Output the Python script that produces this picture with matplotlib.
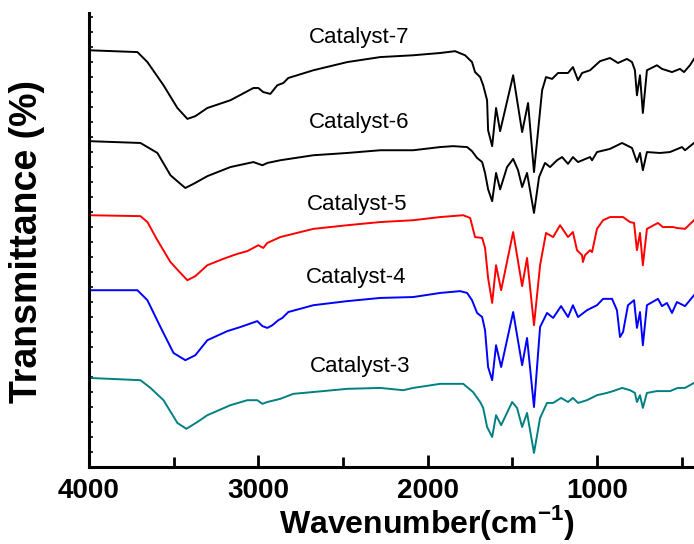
import matplotlib
matplotlib.use("Agg")
import matplotlib.pyplot as plt
from matplotlib.ticker import MultipleLocator

# (wavenumber cm-1, transmittance a.u.)
cat7 = [(4000, 91.7), (3714, 91.3), (3655, 89.1), (3560, 84.0), (3478, 79.0), (3419, 76.6),
        (3372, 77.2), (3301, 79.0), (3165, 80.7), (3029, 83.4), (3000, 83.4), (2971, 82.5),
        (2929, 82.1), (2888, 84.0), (2852, 84.5), (2823, 85.6), (2675, 87.3), (2475, 89.1),
        (2280, 90.2), (2085, 90.6), (1926, 91.1), (1838, 91.5), (1779, 90.6), (1738, 89.1),
        (1720, 86.9), (1690, 85.8), (1672, 84.0), (1649, 80.7), (1643, 74.1), (1619, 70.6),
        (1596, 79.0), (1572, 73.9), (1495, 86.2), (1442, 73.7), (1407, 80.1), (1372, 64.9),
        (1324, 82.9), (1301, 85.8), (1265, 85.4), (1230, 86.7), (1171, 86.7), (1142, 88.0),
        (1112, 85.1), (1088, 86.7), (1041, 87.3), (982, 89.3), (923, 90.0), (876, 88.9),
        (823, 89.8), (793, 89.1), (776, 87.3), (764, 81.8), (746, 86.2), (729, 77.9),
        (705, 87.3), (646, 88.4), (616, 87.6), (557, 86.9), (510, 87.6), (486, 86.9),
        (451, 88.4), (427, 89.8)]

cat6 = [(4000, 71.7), (3696, 71.3), (3596, 69.1), (3519, 64.2), (3460, 62.3), (3431, 61.4),
        (3383, 62.3), (3301, 64.0), (3165, 66.0), (3029, 67.1), (2976, 66.4), (2947, 66.9),
        (2870, 67.5), (2675, 68.6), (2475, 69.1), (2280, 69.7), (2085, 69.7), (1926, 70.4),
        (1850, 70.6), (1767, 70.4), (1738, 69.5), (1708, 68.0), (1678, 67.1), (1661, 64.7),
        (1643, 61.1), (1619, 58.5), (1596, 64.7), (1572, 61.1), (1531, 66.0), (1495, 67.8),
        (1466, 65.3), (1442, 61.6), (1413, 64.7), (1372, 55.9), (1342, 63.8), (1307, 66.9),
        (1277, 66.0), (1236, 67.5), (1206, 68.2), (1171, 66.7), (1142, 68.2), (1112, 67.1),
        (1041, 68.2), (1029, 67.5), (1000, 69.3), (923, 70.0), (852, 71.3), (793, 70.2),
        (764, 67.1), (746, 69.1), (729, 65.3), (705, 69.3), (628, 69.1), (569, 69.3),
        (498, 70.4), (480, 69.7), (427, 71.3)]

cat5 = [(4000, 55.4), (3696, 55.2), (3655, 53.9), (3596, 49.9), (3519, 45.1), (3460, 42.7),
        (3419, 41.1), (3372, 42.0), (3301, 44.4), (3207, 45.8), (3124, 46.9), (3065, 47.5),
        (3000, 48.8), (2971, 48.2), (2947, 49.3), (2870, 50.6), (2675, 52.4), (2475, 53.2),
        (2280, 53.9), (2085, 54.3), (1926, 55.0), (1790, 55.4), (1749, 54.8), (1720, 50.6),
        (1678, 50.4), (1661, 48.2), (1643, 41.6), (1619, 36.1), (1596, 44.4), (1566, 38.9),
        (1495, 51.7), (1442, 39.8), (1413, 46.0), (1372, 31.2), (1336, 44.4), (1301, 51.5),
        (1259, 50.6), (1218, 53.2), (1171, 50.6), (1142, 51.7), (1118, 47.7), (1088, 46.6),
        (1083, 45.1), (1071, 46.6), (1041, 47.7), (1029, 47.3), (1000, 52.4), (964, 54.3),
        (923, 55.0), (846, 55.0), (805, 53.9), (781, 53.7), (764, 47.7), (746, 51.5),
        (729, 44.4), (705, 52.4), (640, 53.7), (611, 52.8), (551, 52.8), (528, 52.6),
        (480, 52.4), (427, 54.3)]

cat4 = [(4000, 38.9), (3714, 38.9), (3655, 36.7), (3578, 30.8), (3501, 25.1), (3431, 23.5),
        (3372, 24.6), (3301, 27.9), (3183, 29.9), (3106, 30.8), (3006, 32.1), (2976, 31.0),
        (2947, 30.6), (2917, 31.2), (2882, 32.3), (2858, 32.8), (2823, 34.1), (2675, 35.6),
        (2475, 36.5), (2280, 37.2), (2085, 37.4), (1926, 38.3), (1808, 38.7), (1767, 38.3),
        (1738, 36.7), (1708, 33.9), (1678, 33.0), (1661, 30.1), (1643, 22.0), (1619, 19.1),
        (1596, 26.8), (1566, 22.0), (1495, 34.1), (1442, 22.4), (1413, 28.4), (1372, 13.2),
        (1336, 30.8), (1295, 33.9), (1259, 32.8), (1212, 35.4), (1171, 33.0), (1142, 35.6),
        (1112, 33.0), (1059, 34.5), (1000, 35.6), (964, 37.0), (911, 37.0), (882, 34.5),
        (864, 28.6), (846, 29.7), (817, 35.6), (781, 36.7), (764, 30.6), (746, 34.1),
        (729, 26.8), (705, 35.6), (640, 37.0), (616, 35.4), (587, 36.1), (557, 33.9),
        (528, 36.3), (480, 35.4), (427, 37.8)]

cat3 = [(4000, 19.6), (3696, 19.1), (3637, 17.4), (3560, 14.7), (3478, 9.7), (3425, 8.4),
        (3360, 9.9), (3301, 11.4), (3165, 13.6), (3065, 14.7), (3006, 14.7), (2976, 13.9),
        (2947, 14.3), (2870, 15.0), (2793, 16.1), (2675, 16.5), (2475, 17.2), (2280, 17.4),
        (2144, 16.9), (2085, 17.4), (1926, 18.3), (1790, 18.3), (1732, 16.5), (1690, 14.3),
        (1672, 13.0), (1649, 8.8), (1619, 6.6), (1596, 11.4), (1566, 9.2), (1501, 14.3),
        (1472, 13.0), (1442, 8.8), (1413, 11.9), (1372, 3.1), (1336, 10.8), (1295, 14.1),
        (1259, 14.1), (1212, 15.2), (1171, 14.3), (1142, 15.2), (1112, 14.1), (1059, 14.7),
        (1000, 15.8), (941, 16.3), (905, 16.7), (852, 17.4), (805, 16.9), (776, 16.3),
        (764, 14.3), (746, 15.8), (729, 13.0), (705, 16.3), (646, 16.7), (569, 16.7),
        (522, 17.4), (480, 17.4), (427, 18.5)]

series = [cat7, cat6, cat5, cat4, cat3]
names = ["Catalyst-7", "Catalyst-6", "Catalyst-5", "Catalyst-4", "Catalyst-3"]
colors = ["black", "black", "#ff0000", "#0000ff", "#008080"]
label_pos = [(2404, 93.3), (2404, 74.6), (2416, 56.5), (2422, 40.5), (2398, 20.9)]

font = "Liberation Sans"
plt.rcParams["mathtext.fontset"] = "custom"
plt.rcParams["mathtext.rm"] = font + ":bold"
plt.rcParams["mathtext.bf"] = font + ":bold"

fig = plt.figure(figsize=(6.94, 5.44), dpi=100)
ax = fig.add_axes([89 / 694, 1 - 467 / 544, 1 - 89 / 694, 454 / 544])

for data, c in zip(series, colors):
    wn = [p[0] for p in data]
    t = [p[1] for p in data]
    ax.plot(wn, t, color=c, lw=1.4)

for name, (x, y) in zip(names, label_pos):
    ax.text(x, y, name, ha="center", va="baseline", fontsize=16, family=font)

ax.set_xlim(4000, 427)
ax.set_ylim(0, 99.9)

ax.spines["top"].set_visible(False)
ax.spines["right"].set_visible(False)
ax.spines["left"].set_linewidth(2.2)
ax.spines["bottom"].set_linewidth(2.2)

ax.xaxis.set_major_locator(MultipleLocator(1000))
ax.xaxis.set_minor_locator(MultipleLocator(500))
ax.yaxis.set_major_locator(MultipleLocator(3.3))
ax.tick_params(axis="x", which="major", direction="in", length=9, width=2, pad=8)
ax.tick_params(axis="x", which="minor", direction="in", length=7, width=2)
ax.tick_params(axis="y", which="major", direction="in", length=3, width=1.2, labelleft=False)

for lab in ax.get_xticklabels():
    lab.set_fontfamily(font)
    lab.set_fontweight("bold")
    lab.set_fontsize(20)

ax.set_xlabel("Wavenumber(cm$^{-1}$)", fontsize=23, fontweight="bold", family=font)
ax.xaxis.set_label_coords(0.559, -0.08)
ax.set_ylabel("Transmittance (%)", fontsize=27, fontweight="bold", family=font)
ax.yaxis.set_label_coords(-0.072, 0.496)

fig.savefig("out.png", dpi=100)
